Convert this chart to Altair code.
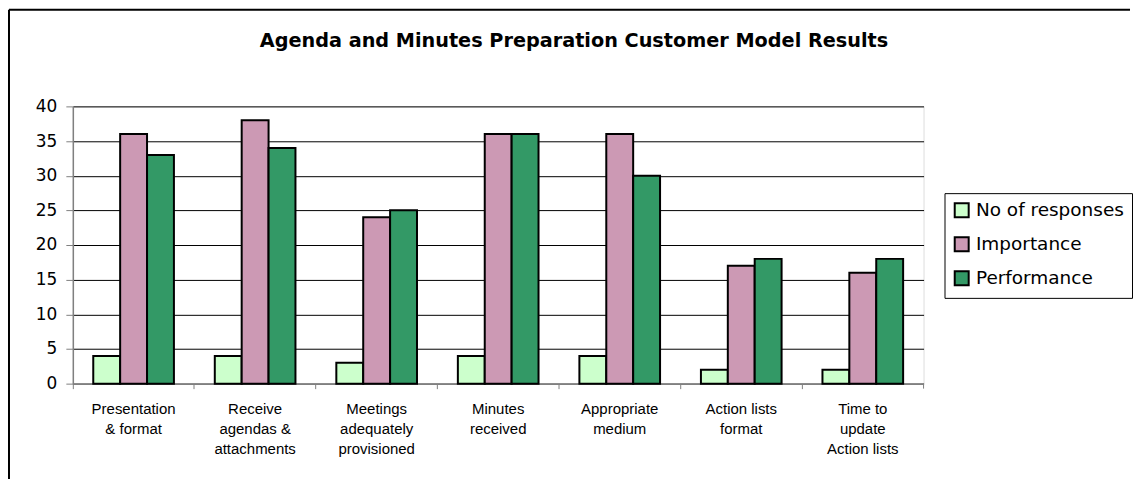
import altair as alt
import pandas as pd

label_lines = [
    ["Presentation", "& format"],
    ["Receive", "agendas &", "attachments"],
    ["Meetings", "adequately", "provisioned"],
    ["Minutes", "received"],
    ["Appropriate", "medium"],
    ["Action lists", "format"],
    ["Time to", "update", "Action lists"],
]
categories = ["|".join(l) for l in label_lines]
series = ["No of responses", "Importance", "Performance"]
responses = [4, 4, 3, 4, 4, 2, 2]
importance = [36, 38, 24, 36, 36, 17, 16]
performance = [33, 34, 25, 36, 30, 18, 18]
colors = ["#CCFFCC", "#CC99B4", "#339966"]
title = "Agenda and Minutes Preparation Customer Model Results"

rows = []
for s, vals in zip(series, [responses, importance, performance]):
    for c, v in zip(categories, vals):
        rows.append({"category": c, "series": s, "value": v})
df = pd.DataFrame(rows)

W, H = 853, 278

bars = alt.Chart(df).mark_bar(stroke="black", strokeWidth=2).encode(
    x=alt.X("category:N", sort=categories, title=None,
            scale=alt.Scale(paddingInner=0, paddingOuter=0),
            axis=alt.Axis(bandPosition=0, labelExpr="split(datum.value, '|')",
                          labelAngle=0, labelFont="Liberation Sans Narrow, Liberation Sans, sans-serif",
                          labelFontSize=15, labelLineHeight=20, labelPadding=13, labelColor="black",
                          tickSize=5, tickColor="#808080", domainColor="#808080", domainWidth=1.5,
                          grid=False, labelBaseline="top")),
    xOffset=alt.XOffset("series:N", sort=series,
                        scale=alt.Scale(paddingOuter=0.76, paddingInner=0)),
    y=alt.Y("value:Q", title=None,
            scale=alt.Scale(domain=[0, 40], nice=False),
            axis=alt.Axis(values=list(range(0, 41, 5)), gridColor="black", gridWidth=1,
                          tickSize=7, tickColor="#808080", domainColor="#808080", domainWidth=1.5,
                          labelFont="DejaVu Sans", labelFontSize=17, labelColor="black",
                          labelPadding=9)),
    color=alt.Color("series:N", sort=series, title=None,
                    scale=alt.Scale(domain=series, range=colors),
                    legend=alt.Legend(orient="none", legendX=874, legendY=87,
                                      strokeColor="black", padding=8, fillColor="white",
                                      symbolType="square", symbolSize=196, symbolStrokeColor="black",
                                      symbolStrokeWidth=2, labelFont="DejaVu Sans", labelFontSize=18.5,
                                      labelColor="black", labelOffset=5, rowPadding=11)),
)

one = pd.DataFrame({"a": [0]})
frame_top = alt.Chart(one).mark_rule(color="black", strokeWidth=2).encode(
    x=alt.value(-64), x2=alt.value(1060), y=alt.value(-97))
frame_left = alt.Chart(one).mark_rule(color="black", strokeWidth=2).encode(
    x=alt.value(-64), y=alt.value(-97), y2=alt.value(382))

right_tick = alt.Chart(one).mark_rule(color="#808080", strokeWidth=1).encode(
    x=alt.value(W), y=alt.value(H), y2=alt.value(H + 5))

chart = alt.layer(frame_top, frame_left, bars, right_tick).properties(
    width=W, height=H, padding=0,
    title=alt.TitleParams(title, font="DejaVu Sans", fontSize=19.3, fontWeight="bold",
                          anchor="middle", dx=76, offset=-43, color="black"),
).configure_view(stroke=None).configure(background="white")

chart.save("out.html", embed_options={"renderer": "svg", "actions": False})
